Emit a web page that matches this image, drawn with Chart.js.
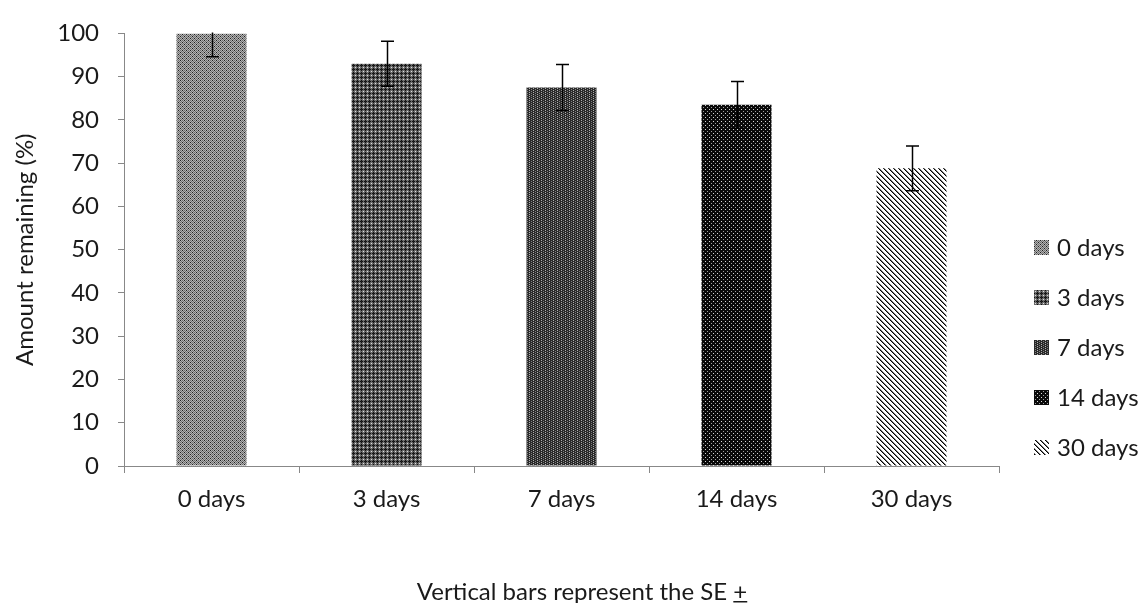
<!DOCTYPE html>
<html>
<head>
<meta charset="utf-8">
<script src="https://cdn.jsdelivr.net/npm/chart.js@4.4.1/dist/chart.umd.min.js"></script>
<style>
  html, body { margin: 0; padding: 0; background: #fff; }
</style>
</head>
<body>
<canvas id="myChart" width="1141" height="603"></canvas>
<script>
const categories = ['0 days', '3 days', '7 days', '14 days', '30 days'];
const remaining = [100, 93, 87.5, 83.5, 68.8];
const stdErr = [5.4, 5.2, 5.3, 5.4, 5.2];
const yTicks = [0, 10, 20, 30, 40, 50, 60, 70, 80, 90, 100];
const caption = 'Vertical bars represent the SE ';
const captionSign = '+';

const FONT = 'Lato';
const TEXT = '#1a1a1a';
const AXIS = '#888888';

// little tiles used as bar fills (imitating the Excel patterns)
function makePattern(size, paint) {
  const c = document.createElement('canvas');
  c.width = size; c.height = size;
  const g = c.getContext('2d');
  const px = (x, y, col) => { g.fillStyle = col; g.fillRect(x, y, 1, 1); };
  paint(g, px, size);
  return g.createPattern(c, 'repeat');
}

const fills = [
  // 0 days: fine grey dither
  makePattern(4, (g, px, n) => {
    for (let y = 0; y < n; y++) for (let x = 0; x < n; x++)
      px(x, y, (x + y) % 2 ? '#b4b4b4' : '#6e6e6e');
    px(0, 0, '#202020'); px(2, 2, '#202020');
  }),
  // 3 days: darker dotted grid
  makePattern(4, (g, px, n) => {
    g.fillStyle = '#6a6a6a'; g.fillRect(0, 0, n, n);
    px(1, 0, '#111'); px(0, 1, '#111'); px(2, 1, '#111'); px(1, 2, '#111'); px(1, 1, '#222');
    px(3, 3, '#e0e0e0');
  }),
  // 7 days: dark with light columns of dots
  makePattern(4, (g, px, n) => {
    g.fillStyle = '#2a2a2a'; g.fillRect(0, 0, n, n);
    px(1, 0, '#b0b0b0'); px(1, 2, '#b0b0b0'); px(3, 1, '#808080'); px(3, 3, '#808080');
  }),
  // 14 days: black with white dots
  makePattern(4, (g, px, n) => {
    g.fillStyle = '#0a0a0a'; g.fillRect(0, 0, n, n);
    px(1, 1, '#d8d8d8'); px(3, 3, '#a0a0a0');
  }),
  // 30 days: diagonal hatching
  makePattern(5, (g, px, n) => {
    g.fillStyle = '#ffffff'; g.fillRect(0, 0, n, n);
    for (let y = 0; y < n; y++) for (let x = 0; x < n; x++) {
      const d = (x - y + n) % n;
      if (d === 0) px(x, y, '#000');
      else if (d === 1) px(x, y, '#777');
    }
  })
];

const errorBars = {
  id: 'errorBars',
  afterDatasetsDraw(chart) {
    const {ctx, chartArea, scales: {y}} = chart;
    const meta = chart.getDatasetMeta(0);
    ctx.save();
    ctx.beginPath();
    ctx.rect(chartArea.left, chartArea.top - 1, chartArea.width, chartArea.height + 2);
    ctx.clip();
    ctx.strokeStyle = '#000';
    ctx.lineWidth = 1.5;
    meta.data.forEach((bar, i) => {
      const cx = Math.round(bar.x) + 0.5;
      const hi = y.getPixelForValue(remaining[i] + stdErr[i]);
      const lo = y.getPixelForValue(remaining[i] - stdErr[i]);
      ctx.beginPath();
      ctx.moveTo(cx, hi); ctx.lineTo(cx, lo);
      ctx.moveTo(cx - 6.5, hi); ctx.lineTo(cx + 6.5, hi);
      ctx.moveTo(cx - 6.5, lo); ctx.lineTo(cx + 6.5, lo);
      ctx.stroke();
    });
    ctx.restore();
  }
};

const sideLegend = {
  id: 'sideLegend',
  afterDraw(chart) {
    const {ctx, chartArea} = chart;
    const x0 = chartArea.right + 35;
    const y0 = 247;
    ctx.save();
    ctx.font = '24px ' + FONT;
    ctx.textBaseline = 'middle';
    ctx.fillStyle = TEXT;
    categories.forEach((c, i) => {
      const yc = y0 + i * 50;
      ctx.fillStyle = fills[i];
      ctx.fillRect(x0, yc - 7, 15, 15);
      ctx.fillStyle = TEXT;
      ctx.fillText(c, x0 + 23, yc + 1);
    });

    // caption under the chart, with an underlined sign (SE ±)
    ctx.textBaseline = 'alphabetic';
    const w1 = ctx.measureText(caption).width;
    const w2 = ctx.measureText(captionSign).width;
    const left = 582 - (w1 + w2) / 2;
    ctx.fillText(caption, left, 600);
    ctx.fillText(captionSign, left + w1, 600);
    ctx.fillRect(left + w1, 601, w2, 1.5);
    ctx.restore();
  }
};

const ctx = document.getElementById('myChart').getContext('2d');
new Chart(ctx, {
  type: 'bar',
  data: {
    labels: categories,
    datasets: [{
      label: 'Amount remaining (%)',
      data: remaining,
      backgroundColor: fills,
      borderWidth: 0,
      categoryPercentage: 1,
      barPercentage: 0.4
    }]
  },
  options: {
    responsive: false,
    animation: false,
    devicePixelRatio: 1,
    layout: { padding: { top: 25, right: 142, left: 0, bottom: 0 } },
    plugins: {
      legend: { display: false },
      tooltip: { enabled: false }
    },
    scales: {
      x: {
        afterFit(scale) { scale.height = 137; },
        grid: { display: true, drawOnChartArea: false, drawTicks: true, tickLength: 7, color: AXIS, offset: true },
        border: { color: AXIS, width: 1 },
        ticks: { color: TEXT, font: { family: FONT, size: 24 }, padding: 12 }
      },
      y: {
        min: 0,
        max: 100,
        afterFit(scale) { scale.width = 124; },
        afterBuildTicks(scale) { scale.ticks = yTicks.map(v => ({ value: v })); },
        grid: { display: true, drawOnChartArea: false, drawTicks: true, tickLength: 6, color: AXIS },
        border: { color: AXIS, width: 1 },
        ticks: { color: TEXT, font: { family: FONT, size: 24 }, padding: 19 },
        title: {
          display: true,
          text: 'Amount remaining (%)',
          color: TEXT,
          font: { family: FONT, size: 24 },
          padding: { top: 11, bottom: 0 }
        }
      }
    }
  },
  plugins: [errorBars, sideLegend]
});
</script>
</body>
</html>
